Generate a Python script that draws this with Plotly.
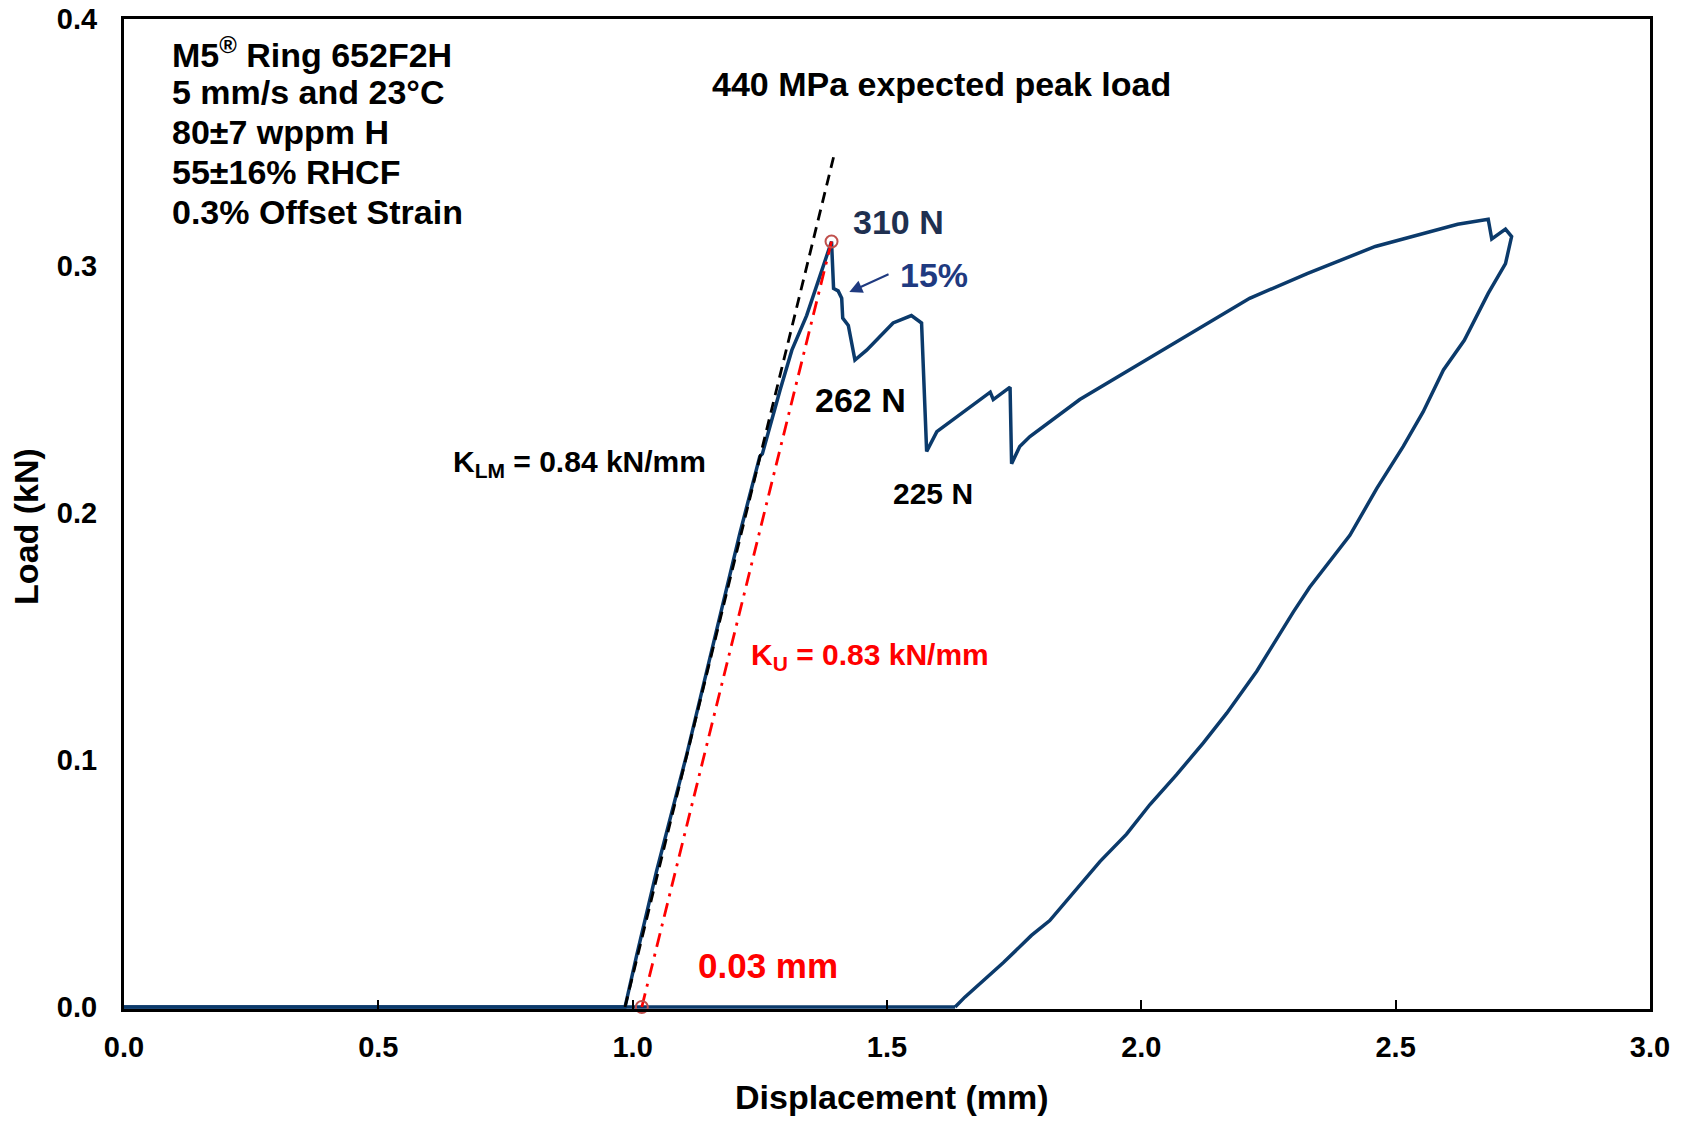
import plotly.graph_objects as go

# load-displacement trace of the ring test (mm, kN)
disp = [0.0, 0.985, 1.008, 1.047, 1.106, 1.165, 1.211, 1.250, 1.255, 1.290, 1.313, 1.342,
        1.368, 1.385, 1.391, 1.395, 1.404, 1.411, 1.413, 1.424, 1.437, 1.460, 1.512, 1.548,
        1.568, 1.578, 1.598, 1.703, 1.709, 1.742, 1.745, 1.761, 1.781, 1.879, 2.057, 2.213,
        2.326, 2.460, 2.622, 2.682, 2.689, 2.716, 2.728, 2.716, 2.682, 2.635, 2.594, 2.554,
        2.515, 2.463, 2.410, 2.331, 2.299, 2.246, 2.227, 2.168, 2.122, 2.069, 2.017, 1.971,
        1.919, 1.820, 1.784, 1.729, 1.653, 1.634]
load = [0.0, 0.0, 0.021, 0.055, 0.102, 0.153, 0.192, 0.223, 0.224, 0.250, 0.266, 0.280,
        0.296, 0.307, 0.310, 0.291, 0.290, 0.287, 0.279, 0.276, 0.262, 0.266, 0.277, 0.280,
        0.277, 0.225, 0.233, 0.249, 0.246, 0.251, 0.220, 0.227, 0.231, 0.246, 0.268, 0.287,
        0.297, 0.308, 0.317, 0.319, 0.311, 0.315, 0.312, 0.301, 0.289, 0.270, 0.258, 0.241,
        0.227, 0.210, 0.191, 0.170, 0.160, 0.142, 0.136, 0.119, 0.107, 0.094, 0.082, 0.070,
        0.059, 0.035, 0.029, 0.018, 0.004, 0.0]

# baseline and fitted stiffness lines
base_x = [0.0, 1.634]
base_y = [0.0, 0.0]
klm_x = [0.985, 1.396]
klm_y = [0.0, 0.345]
ku_x = [1.018, 1.391]
ku_y = [0.0, 0.310]

x_ticks = [0.0, 0.5, 1.0, 1.5, 2.0, 2.5, 3.0]
y_ticks = [0.0, 0.1, 0.2, 0.3, 0.4]

info_lines = ["M5<sup>®</sup> Ring 652F2H", "5 mm/s and 23°C", "80±7 wppm H",
              "55±16% RHCF", "0.3% Offset Strain"]

FONT = "Liberation Sans, Arial, sans-serif"
NAVY = "#0b3a6b"

fig = go.Figure()

fig.add_trace(go.Scatter(x=base_x, y=base_y, mode="lines",
                         line=dict(color=NAVY, width=3.5), hoverinfo="skip"))
fig.add_trace(go.Scatter(x=disp, y=load, mode="lines",
                         line=dict(color=NAVY, width=3.5)))
fig.add_trace(go.Scatter(x=klm_x, y=klm_y, mode="lines",
                         line=dict(color="black", width=2.8, dash="11px,7px")))
fig.add_trace(go.Scatter(x=ku_x, y=ku_y, mode="lines",
                         line=dict(color="#ff0000", width=2.8, dash="14px,7px,3px,7px")))
fig.add_trace(go.Scatter(x=[ku_x[0], ku_x[1]], y=[ku_y[0], ku_y[1]], mode="markers",
                         marker=dict(symbol="circle-open", size=12, color="#c0504d",
                                     line=dict(width=2)),
                         cliponaxis=False))

ann = []
for i, t in enumerate(info_lines):
    ann.append(dict(x=0.0904, y=0.3867 - i * 0.0162, text="<b>" + t + "</b>",
                    xanchor="left", yanchor="middle", showarrow=False,
                    font=dict(size=34, color="black")))

ann += [
    dict(x=1.608, y=0.3737, text="<b>440 MPa expected peak load</b>", showarrow=False,
         font=dict(size=34, color="black")),
    dict(x=1.430, y=0.3177, text="<b>310 N</b>", xanchor="left", showarrow=False,
         font=dict(size=34, color="#1f3050")),
    dict(x=1.522, y=0.2966, text="<b>15%</b>", xanchor="left", showarrow=False,
         font=dict(size=34, color="#1f3a80")),
    dict(x=1.426, y=0.2895, ax=1.506, ay=0.297, axref="x", ayref="y", text="",
         showarrow=True, arrowhead=2, arrowsize=1.3, arrowwidth=2, arrowcolor="#1f3a80"),
    dict(x=1.447, y=0.2457, text="<b>262 N</b>", showarrow=False,
         font=dict(size=34, color="black")),
    dict(x=1.591, y=0.2078, text="<b>225 N</b>", showarrow=False,
         font=dict(size=30, color="black")),
    dict(x=0.643, y=0.2200, text="<b>K<sub>LM</sub> = 0.84 kN/mm</b>", xanchor="left",
         showarrow=False, font=dict(size=30, color="black")),
    dict(x=1.2295, y=0.1418, text="<b>K<sub>U</sub> = 0.83 kN/mm</b>", xanchor="left",
         showarrow=False, font=dict(size=30, color="#ff0000")),
    dict(x=1.124, y=0.0167, text="<b>0.03 mm</b>", xanchor="left", showarrow=False,
         font=dict(size=35, color="#ff0000")),
    # axis titles
    dict(x=0.5036, y=-0.089, xref="paper", yref="paper", text="<b>Displacement (mm)</b>",
         xanchor="center", yanchor="middle", showarrow=False,
         font=dict(size=34, color="black")),
    dict(x=-0.0642, y=0.487, xref="paper", yref="paper", text="<b>Load (kN)</b>",
         xanchor="center", yanchor="middle", textangle=-90, showarrow=False,
         font=dict(size=34, color="black")),
]

# page body has an 8px margin, so the figure is sized to fit inside it
fig.update_layout(
    width=1670, height=1110,
    margin=dict(l=116, r=28, t=11, b=109),
    paper_bgcolor="white", plot_bgcolor="white",
    font=dict(family=FONT, color="black"),
    showlegend=False,
    annotations=ann,
)

fig.update_xaxes(range=[0, 3.0001], tickmode="array", tickvals=x_ticks,
                 ticktext=[f"{v:.1f}" for v in x_ticks],
                 showgrid=False, zeroline=False, automargin=False,
                 showline=True, linecolor="black", linewidth=3, mirror=True,
                 ticks="inside", ticklen=9, tickwidth=2, tickcolor="black",
                 ticklabelstandoff=10, ticklabeloverflow="allow",
                 tickfont=dict(size=29, weight="bold"))
fig.update_yaxes(range=[-0.0008, 0.4001], tickmode="array", tickvals=y_ticks,
                 ticktext=[f"{v:.1f}" for v in y_ticks],
                 showgrid=False, zeroline=False, automargin=False,
                 showline=True, linecolor="black", linewidth=3, mirror=True,
                 ticks="", ticklabelstandoff=18, ticklabeloverflow="allow",
                 tickfont=dict(size=29, weight="bold"))

fig.write_html("out.html")
